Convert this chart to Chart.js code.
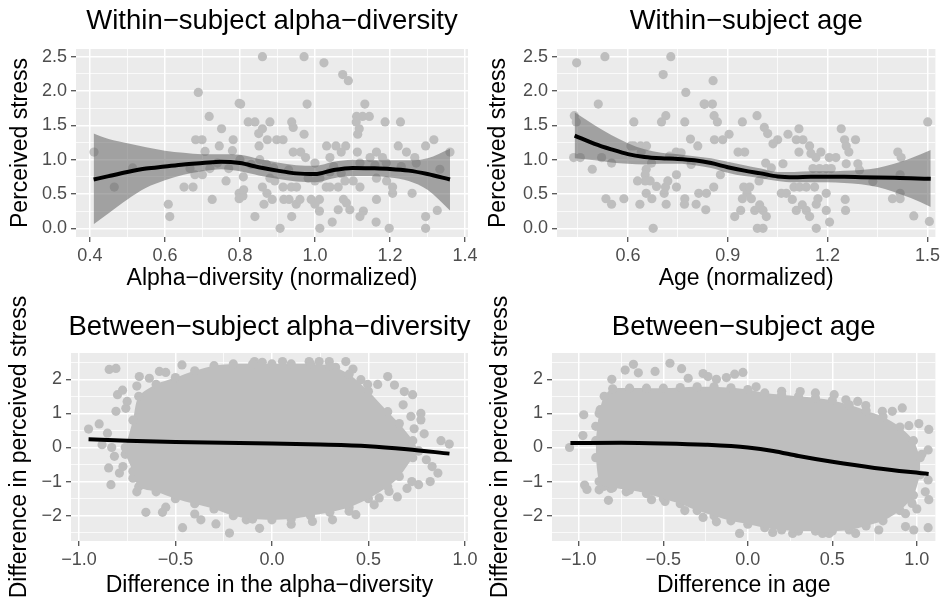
<!DOCTYPE html>
<html>
<head>
<meta charset="utf-8">
<script src="https://cdn.jsdelivr.net/npm/chart.js@4.4.1/dist/chart.umd.min.js"></script>
<style>
  html, body { margin: 0; padding: 0; background: #fff; }
  #wrap { position: relative; width: 940px; height: 603px; }
  #wrap canvas { position: absolute; left: 0; top: 0; }
</style>
</head>
<body>
<div id="wrap">
  <canvas id="c1" width="940" height="603"></canvas>
  <canvas id="c2" width="940" height="603"></canvas>
  <canvas id="c3" width="940" height="603"></canvas>
  <canvas id="c4" width="940" height="603"></canvas>
</div>
<script>
// ---- Within-subject alpha-diversity
const wAlphaX = [0.411,0.465,0.514,0.689,0.718,0.751,0.682,0.699,0.745,0.707,0.782,0.780,0.798,0.667,0.720,0.740,0.770,0.680,0.700,0.651,0.675,0.763,0.726,0.609,0.613,0.798,0.798,
  0.860,0.971,1.024,1.074,1.089,0.802,0.979,1.133,0.822,0.840,0.880,0.938,0.942,1.187,1.228,1.111,1.127,1.145,1.110,0.860,0.850,0.873,0.898,0.915,0.971,1.114,1.118,0.851,1.031,1.056,1.082,1.222,1.295,1.317,1.360,0.942,0.962,0.975,1.040,1.070,1.113,1.164,1.244,1.266,1.147,1.180,1.190,1.333,
  0.809,0.810,0.808,0.860,0.872,0.886,0.864,0.840,0.907,0.915,0.937,0.951,0.917,0.931,0.950,0.960,0.938,0.990,1.012,1.000,1.013,1.046,1.012,1.030,1.040,1.062,1.076,1.084,1.093,1.062,1.120,1.129,1.080,1.102,1.120,1.164,1.163,1.198,1.207,1.207,1.259,1.295,1.295,1.326,0.880,0.893,0.982,1.000,1.013,1.164,1.191,1.040,1.070,
  0.853,0.871,0.890,0.930,1.000,1.050,1.120,1.160,1.230,1.270,0.830,0.800];
const wAlphaY = [1.11,0.60,0.88,1.98,1.63,1.45,1.29,1.29,1.20,1.12,1.29,1.13,1.82,0.87,0.87,0.95,0.87,0.78,0.78,0.60,0.60,0.69,0.42,0.35,0.17,0.51,0.43,
  2.50,2.50,2.41,2.24,2.15,1.81,1.81,1.81,1.55,1.55,1.55,1.55,1.47,1.55,1.55,1.63,1.63,1.63,1.55,1.45,1.38,1.29,1.29,1.29,1.37,1.37,1.45,1.20,1.20,1.20,1.20,1.20,1.20,1.29,1.11,1.11,1.11,1.03,1.03,1.11,1.11,1.11,1.11,1.03,1.03,1.03,0.95,0.86,
  0.75,0.56,0.47,0.60,0.51,0.42,0.35,0.17,0.00,0.60,0.60,0.60,0.42,0.42,0.35,0.42,0.17,0.42,0.42,0.35,0.00,0.09,0.25,0.60,0.60,0.60,0.42,0.37,0.27,0.27,0.17,0.25,0.69,0.69,0.60,0.42,0.09,0.00,0.51,0.60,0.51,0.17,0.00,0.26,0.73,0.69,0.73,0.69,0.73,0.73,0.69,0.82,0.80,
  1.00,0.93,0.88,0.85,0.95,0.90,0.95,0.92,0.90,0.95,0.93,1.00];
const wAlphaFitX  = [0.41,0.45,0.50,0.55,0.60,0.65,0.70,0.75,0.80,0.85,0.90,0.95,1.00,1.05,1.10,1.15,1.20,1.25,1.30,1.36];
const wAlphaFit   = [0.71,0.76,0.82,0.87,0.90,0.93,0.95,0.97,0.95,0.89,0.84,0.80,0.79,0.85,0.88,0.875,0.865,0.84,0.79,0.71];
const wAlphaUpper = [1.38,1.30,1.24,1.18,1.13,1.10,1.08,1.08,1.07,1.01,0.96,0.92,0.91,0.97,1.00,0.99,0.99,0.99,1.02,1.16];
const wAlphaLower = [0.06,0.22,0.42,0.59,0.70,0.78,0.83,0.86,0.83,0.77,0.72,0.68,0.67,0.73,0.76,0.76,0.74,0.69,0.56,0.26];

// ---- Within-subject age
const wAgeX = [0.446,0.531,0.729,0.706,0.774,0.511,0.829,0.439,0.445,0.618,0.701,0.714,0.771,0.437,0.457,0.521,0.551,0.493,0.534,0.551,
  0.588,0.609,0.618,0.638,0.656,0.640,0.671,0.655,0.652,0.652,0.629,0.667,0.686,0.655,0.672,0.636,0.676,0.709,0.713,0.720,
  0.746,0.746,0.715,0.771,0.770,0.805,0.813,0.834,0.788,0.810,0.725,0.745,0.760,0.790,
  0.856,0.831,0.854,0.859,0.869,0.944,0.988,1.010,1.020,1.114,1.241,1.501,0.904,0.885,0.860,1.050,1.036,1.081,1.106,1.126,
  1.251,1.284,0.931,0.951,1.114,1.146,1.150,1.165,1.180,1.205,1.225,1.256,1.264,1.411,1.421,1.014,1.031,1.066,1.156,1.176,
  1.196,1.211,1.256,1.291,1.296,1.336,1.418,1.418,1.395,1.418,1.459,1.506,0.878,0.858,0.948,0.958,0.944,0.971,0.981,0.996,
  1.006,1.016,0.989,1.006,0.921,0.939,1.061,1.076,1.094,1.099,1.106,1.124,1.136,1.146,1.116,1.136,1.161,1.166,1.171,1.196,
  1.196,1.206,1.166,1.253,1.254,0.836,0.966,0.994,1.011];
const wAgeY = [2.41,2.50,2.50,2.24,1.98,1.81,1.81,1.64,1.55,1.55,1.55,1.64,1.55,1.03,1.03,1.03,0.95,0.86,0.43,0.35,
  0.43,1.20,1.20,1.20,1.20,1.11,0.95,0.86,0.78,0.69,0.69,0.69,0.61,0.51,0.43,0.35,0.00,0.51,0.60,0.69,
  0.60,0.78,0.35,0.43,0.35,0.35,0.51,0.27,1.30,1.20,1.05,1.11,1.10,0.93,
  2.15,1.81,1.81,1.64,1.55,1.55,1.64,1.47,1.38,1.45,1.45,1.55,1.37,1.29,1.29,1.29,1.23,1.37,1.29,1.29,
  1.29,1.29,1.11,1.11,1.11,1.20,1.09,1.03,1.11,1.03,1.03,1.20,1.11,1.11,1.03,0.95,0.88,0.94,0.87,0.87,
  0.87,0.87,0.94,0.94,0.85,0.68,0.78,0.51,0.43,0.43,0.18,0.10,0.78,0.60,0.60,0.51,0.43,0.43,0.26,0.34,
  0.26,0.17,0.00,0.00,0.17,0.26,0.51,0.51,0.42,0.60,0.26,0.34,0.26,0.17,0.60,0.60,0.60,0.35,0.43,0.51,
  0.26,0.09,0.00,0.42,0.26,0.51,0.60,0.69,0.78];
const wAgeFitX  = [0.44,0.50,0.55,0.60,0.65,0.70,0.75,0.80,0.85,0.90,0.95,1.00,1.05,1.10,1.15,1.20,1.25,1.30,1.35,1.40,1.45,1.51];
const wAgeFit   = [1.35,1.23,1.15,1.08,1.04,1.02,1.01,0.99,0.95,0.89,0.84,0.80,0.755,0.745,0.75,0.75,0.75,0.745,0.74,0.735,0.73,0.72];
const wAgeUpper = [1.69,1.50,1.36,1.24,1.15,1.10,1.08,1.05,1.02,0.97,0.92,0.87,0.82,0.82,0.83,0.83,0.84,0.85,0.88,0.94,1.02,1.14];
const wAgeLower = [1.02,0.99,0.96,0.94,0.93,0.94,0.94,0.92,0.88,0.81,0.76,0.73,0.69,0.67,0.67,0.67,0.66,0.64,0.60,0.53,0.44,0.31];

// ---- Between-subject alpha-diversity: dense core outline + scattered edge points
const bAlphaCoreX   = [-0.76,-0.72,-0.69,-0.60,-0.50,-0.40,-0.30,-0.20,-0.10,0.00,0.10,0.20,0.30,0.40,0.50,0.60,0.66,0.73,0.76];
const bAlphaCoreTop = [0.00,0.80,1.50,1.85,2.05,2.25,2.40,2.45,2.45,2.45,2.45,2.45,2.40,2.15,1.65,1.05,0.70,0.20,-0.10];
const bAlphaCoreBot = [-0.20,-0.70,-1.15,-1.30,-1.50,-1.65,-1.80,-2.00,-2.10,-2.12,-2.10,-2.00,-1.90,-1.75,-1.50,-1.15,-0.85,-0.30,-0.10];
const bAlphaX = [-0.950,-0.895,-0.843,-0.808,-0.800,-0.774,-0.757,-0.808,-0.852,-0.830,-0.880,-0.846,-0.834,-0.790,-0.772,-0.816,
  -0.653,-0.567,-0.463,-0.368,-0.290,-0.220,-0.466,-0.687,-0.635,-0.583,-0.090,0.055,0.193,0.245,0.297,0.383,
  0.461,0.496,0.548,0.600,0.635,0.686,0.729,0.772,0.720,0.772,0.737,0.789,0.876,0.919,0.800,0.830,0.860,0.820,0.760,0.725,
  0.607,0.556,0.530,0.400,0.435,0.314,0.210,0.107,0.193,-0.064,-0.133,-0.750,-0.700,-0.620,-0.550,-0.400,-0.550,-0.700,-0.720,
  0.680,0.700,0.650,0.100,-0.050,0.330,0.420];
const bAlphaY = [0.54,0.69,2.29,2.32,1.55,1.68,1.15,1.06,0.42,0.00,0.08,-0.60,-1.09,-0.75,-0.56,-0.26,
  -1.90,-1.90,-2.35,-2.12,-2.24,-2.51,2.42,2.08,2.03,2.23,2.52,2.52,2.52,2.52,2.52,2.52,
  1.99,1.85,1.85,2.08,1.83,1.64,1.55,1.00,0.91,0.81,0.55,0.40,0.20,0.10,-0.36,-0.56,-0.75,-1.00,-1.09,-1.00,
  -1.29,-1.48,-1.68,-1.87,-1.97,-2.12,-2.17,-1.92,-1.92,-2.37,-2.12,1.35,1.80,1.60,2.20,-1.95,-1.75,-1.30,-0.90,
  1.25,-1.20,-1.45,-2.25,2.50,2.35,2.30];
const bAlphaFitX = [-0.95,-0.75,-0.50,-0.25,0.00,0.25,0.50,0.70,0.92];
const bAlphaFit  = [0.24,0.20,0.16,0.14,0.12,0.09,0.04,-0.05,-0.18];

// ---- Between-subject age
const bAgeCoreX   = [-0.90,-0.88,-0.85,-0.80,-0.70,-0.60,-0.50,-0.40,-0.30,-0.20,-0.10,0.00,0.10,0.20,0.30,0.40,0.50,0.60,0.70,0.80,0.90,0.98,1.02];
const bAgeCoreTop = [0.20,1.00,1.50,1.72,1.74,1.74,1.74,1.76,1.78,1.78,1.75,1.70,1.60,1.55,1.50,1.45,1.38,1.25,1.08,0.90,0.60,0.20,-0.30];
const bAgeCoreBot = [-0.30,-1.00,-1.14,-1.18,-1.25,-1.35,-1.50,-1.65,-1.85,-2.00,-2.15,-2.25,-2.35,-2.42,-2.45,-2.45,-2.45,-2.42,-2.30,-2.15,-1.85,-1.40,-0.80];
const bAgeX = [-1.055,-0.971,-0.976,-0.966,-0.952,-0.874,-0.900,-0.825,-0.880,-0.810,-0.805,-0.726,-0.677,-0.648,-0.549,-0.461,-0.392,
  -0.353,-0.265,-0.236,-0.186,-0.127,-0.078,-0.029,0.049,0.310,0.511,0.580,0.698,0.796,0.855,0.914,0.953,1.012,1.071,
  1.067,1.067,1.071,0.933,0.982,1.067,0.933,0.972,0.775,0.638,0.442,0.481,0.265,0.147,-0.049,-0.186,-0.265,-0.373,-0.490,
  -0.570,-0.720,0.200,0.400,0.650,1.030,1.050,1.000];
const bAgeY = [0.00,0.96,0.35,-1.10,-1.23,1.11,0.62,-1.55,-1.24,-1.20,2.00,2.27,2.44,2.19,2.23,2.47,2.31,
  2.03,2.17,2.08,2.00,2.05,2.15,2.20,1.78,1.64,1.55,1.40,1.23,1.06,1.06,1.16,0.64,0.70,0.53,
  -0.07,-0.95,-1.53,-2.32,-2.42,-2.35,-1.94,-1.64,-2.42,-2.52,-2.52,-2.52,-2.52,-2.49,-2.52,-2.18,-2.05,-1.85,-1.58,
  -1.53,-1.30,1.65,1.60,1.35,-0.20,-1.30,-1.80];
const bAgeFitX = [-1.05,-0.75,-0.50,-0.25,0.00,0.15,0.30,0.50,0.75,1.07];
const bAgeFit  = [0.13,0.14,0.12,0.08,0.00,-0.10,-0.25,-0.42,-0.60,-0.78];

// ---- Tick values and labels
const stressTicks = [0, 0.5, 1, 1.5, 2, 2.5];
const stressLabels = ['0.0', '0.5', '1.0', '1.5', '2.0', '2.5'];
const stressMinor = [0.25, 0.75, 1.25, 1.75, 2.25];
const alphaTicks = [0.4, 0.6, 0.8, 1.0, 1.2, 1.4];
const alphaLabels = ['0.4', '0.6', '0.8', '1.0', '1.2', '1.4'];
const alphaMinor = [0.5, 0.7, 0.9, 1.1, 1.3];
const ageTicks = [0.6, 0.9, 1.2, 1.5];
const ageLabels = ['0.6', '0.9', '1.2', '1.5'];
const ageMinor = [0.45, 0.75, 1.05, 1.35];
const diffTicks = [-2, -1, 0, 1, 2];
const diffLabels = ['\u22122', '\u22121', '0', '1', '2'];
const diffMinor = [-2.5, -1.5, -0.5, 0.5, 1.5, 2.5];
const dxTicks = [-1, -0.5, 0, 0.5, 1];
const dxLabels = ['\u22121.0', '\u22120.5', '0.0', '0.5', '1.0'];
const dxMinor = [-0.75, -0.25, 0.25, 0.75];

const FONT = '"Liberation Sans", Arial, Helvetica, sans-serif';
const POINT = '#BEBEBE';
const BAND = 'rgba(100,100,100,0.55)';

function pts(xs, ys) {
  return xs.map((x, i) => ({ x: x, y: ys[i] }));
}

// panel background + centred title
const panelDecor = {
  id: 'panelDecor',
  beforeDraw(chart) {
    const a = chart.chartArea;
    const ctx = chart.ctx;
    ctx.save();
    ctx.fillStyle = '#EBEBEB';
    ctx.fillRect(a.left, a.top, a.right - a.left, a.bottom - a.top);
    ctx.restore();
  },
  afterDraw(chart, args, opts) {
    const a = chart.chartArea;
    const ctx = chart.ctx;
    ctx.save();
    ctx.font = '27.5px ' + FONT;
    ctx.fillStyle = '#000';
    ctx.textAlign = 'center';
    ctx.textBaseline = 'alphabetic';
    ctx.fillText(opts.text, (a.left + a.right) / 2, opts.y);
    ctx.restore();
  }
};

function axis(o) {
  const isMajor = v => o.major.some(m => Math.abs(m - v) < 1e-9);
  const all = o.major.concat(o.minor).filter(v => v >= o.min && v <= o.max).sort((a, b) => a - b);
  return {
    type: 'linear',
    min: o.min,
    max: o.max,
    afterBuildTicks: s => { s.ticks = all.map(v => ({ value: v })); },
    afterFit: s => {
      if (o.horizontal) s.height = o.size; else s.width = o.size;
      s.paddingLeft = 0; s.paddingRight = 0; s.paddingTop = 0; s.paddingBottom = 0;
    },
    ticks: {
      autoSkip: false,
      maxRotation: 0,
      padding: o.horizontal ? 3 : 4,
      color: '#4D4D4D',
      font: { family: FONT, size: 18 },
      callback: v => {
        const i = o.major.findIndex(m => Math.abs(m - v) < 1e-9);
        return i < 0 ? '' : o.labels[i];
      }
    },
    grid: {
      color: '#FFFFFF',
      lineWidth: c => (c.tick && isMajor(c.tick.value)) ? 1.5 : 0.75,
      tickLength: 5,
      tickWidth: 1.1,
      tickColor: c => (c.tick && isMajor(c.tick.value)) ? '#333333' : 'rgba(0,0,0,0)'
    },
    border: { display: false },
    title: { display: true, text: o.title, color: '#000', font: { family: FONT, size: 23 }, padding: o.titlePad }
  };
}

function makePanel(id, p) {
  new Chart(document.getElementById(id), {
    type: 'line',
    data: { datasets: p.datasets },
    options: {
      responsive: false,
      animation: false,
      devicePixelRatio: 1,
      events: [],
      layout: { padding: { left: p.box[0], right: 940 - p.area[1], top: p.area[2], bottom: 603 - p.box[3] } },
      scales: {
        x: axis({ horizontal: true, size: p.box[3] - p.area[3], min: p.x[0], max: p.x[1], major: p.x[2], labels: p.x[3], minor: p.x[4],
                  title: p.xTitle, titlePad: { top: 0, bottom: p.xTitlePad } }),
        y: axis({ horizontal: false, size: p.area[0] - p.box[0], min: p.y[0], max: p.y[1], major: p.y[2], labels: p.y[3], minor: p.y[4],
                  title: p.yTitle, titlePad: { top: p.yTitlePad, bottom: 0 } })
      },
      plugins: {
        legend: { display: false },
        tooltip: { enabled: false },
        panelDecor: { text: p.title, y: p.titleY }
      }
    },
    plugins: [panelDecor]
  });
}

function smoothSets(fitX, fit, upper, lower, px, py) {
  return [
    { data: pts(fitX, fit), borderColor: '#000', borderWidth: 4, pointRadius: 0, cubicInterpolationMode: 'monotone', fill: false },
    { data: pts(fitX, upper), borderWidth: 0, pointRadius: 0, cubicInterpolationMode: 'monotone', backgroundColor: BAND, fill: '+1' },
    { data: pts(fitX, lower), borderWidth: 0, pointRadius: 0, cubicInterpolationMode: 'monotone', fill: false },
    { data: pts(px, py), showLine: false, pointRadius: 4.6, pointBorderWidth: 0, pointBackgroundColor: POINT, fill: false }
  ];
}

function cloudSets(fitX, fit, coreX, top, bot, px, py) {
  return [
    { data: pts(fitX, fit), borderColor: '#000', borderWidth: 4, pointRadius: 0, cubicInterpolationMode: 'monotone', fill: false },
    { data: pts(coreX, top), borderWidth: 0, tension: 0.3, pointRadius: 4.6, pointBorderWidth: 0, pointBackgroundColor: POINT, backgroundColor: POINT, fill: '+1' },
    { data: pts(coreX, bot), borderWidth: 0, tension: 0.3, pointRadius: 4.6, pointBorderWidth: 0, pointBackgroundColor: POINT, fill: false },
    { data: pts(px, py), showLine: false, pointRadius: 4.6, pointBorderWidth: 0, pointBackgroundColor: POINT, fill: false }
  ];
}

makePanel('c1', {
  box: [0, 0, 470, 300], area: [76, 468, 49, 237], titleY: 29,
  title: 'Within\u2212subject alpha\u2212diversity',
  xTitle: 'Alpha\u2212diversity (normalized)', yTitle: 'Perceived stress', xTitlePad: 8, yTitlePad: 7,
  x: [0.363, 1.408, alphaTicks, alphaLabels, alphaMinor],
  y: [-0.127, 2.612, stressTicks, stressLabels, stressMinor],
  datasets: smoothSets(wAlphaFitX, wAlphaFit, wAlphaUpper, wAlphaLower, wAlphaX, wAlphaY)
});

makePanel('c2', {
  box: [470, 0, 940, 300], area: [557, 936, 49, 237], titleY: 29,
  title: 'Within\u2212subject age',
  xTitle: 'Age (normalized)', yTitle: 'Perceived stress', xTitlePad: 8, yTitlePad: 15,
  x: [0.387, 1.524, ageTicks, ageLabels, ageMinor],
  y: [-0.127, 2.612, stressTicks, stressLabels, stressMinor],
  datasets: smoothSets(wAgeFitX, wAgeFit, wAgeUpper, wAgeLower, wAgeX, wAgeY)
});

makePanel('c3', {
  box: [0, 300, 470, 603], area: [71, 468, 353, 541], titleY: 335,
  title: 'Between\u2212subject alpha\u2212diversity',
  xTitle: 'Difference in the alpha\u2212diversity', yTitle: 'Difference in perceived stress', xTitlePad: 4, yTitlePad: 6,
  x: [-1.041, 1.016, dxTicks, dxLabels, dxMinor],
  y: [-2.742, 2.771, diffTicks, diffLabels, diffMinor],
  datasets: cloudSets(bAlphaFitX, bAlphaFit, bAlphaCoreX, bAlphaCoreTop, bAlphaCoreBot, bAlphaX, bAlphaY)
});

makePanel('c4', {
  box: [470, 300, 940, 603], area: [552, 937, 353, 541], titleY: 335,
  title: 'Between\u2212subject age',
  xTitle: 'Difference in age', yTitle: 'Difference in perceived stress', xTitlePad: 4, yTitlePad: 17,
  x: [-1.159, 1.110, dxTicks, dxLabels, dxMinor],
  y: [-2.742, 2.771, diffTicks, diffLabels, diffMinor],
  datasets: cloudSets(bAgeFitX, bAgeFit, bAgeCoreX, bAgeCoreTop, bAgeCoreBot, bAgeX, bAgeY)
});
</script>
</body>
</html>
